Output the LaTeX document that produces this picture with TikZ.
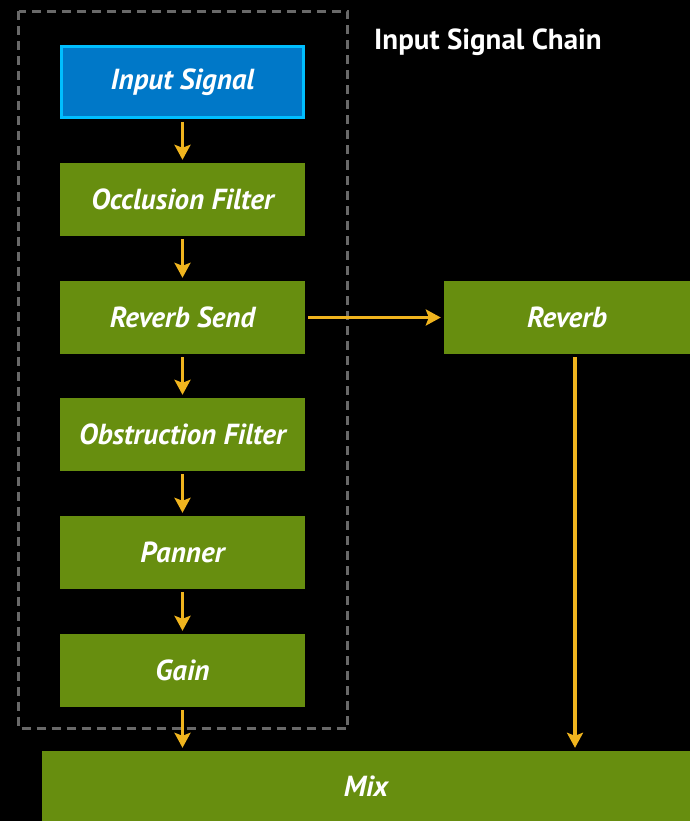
\documentclass[tikz,border=0pt]{standalone}
\usepackage{fontspec}
\setmainfont{PT Sans}
\usetikzlibrary{arrows.meta,calc}
\definecolor{bgc}{RGB}{0,0,0}
\definecolor{boxgreen}{RGB}{103,142,15}
\definecolor{boxblue}{RGB}{0,120,200}
\definecolor{boxcyan}{RGB}{0,190,255}
\definecolor{arrc}{RGB}{240,180,30}
\definecolor{dashc}{RGB}{105,105,105}
\tikzset{
  stage/.style={fill=boxgreen, minimum width=245pt, minimum height=73pt, inner sep=0pt,
    text=white, font=\fontsize{29}{34}\selectfont\bfseries\itshape},
  inputbox/.style={stage, fill=boxblue, draw=boxcyan, line width=3pt, minimum width=242pt, minimum height=71pt},
  flow/.style={draw=arrc, line width=3.5pt, -{Stealth[length=15pt,width=16pt,inset=3pt]}, shorten <=3pt, shorten >=3pt},
  chainbox/.style={draw=dashc, line width=3.5pt, dash pattern=on 9pt off 6pt},
  titletext/.style={text=white, font=\fontsize{29}{34}\selectfont\bfseries}
}
\begin{document}
\begin{tikzpicture}[x=1pt,y=-1pt]
\fill[bgc] (0,0) rectangle (690,821);
\useasboundingbox (0,0) rectangle (690,821);
\draw[chainbox] (18.5,11.5) rectangle (347.5,728.5);
\node[titletext] (title) at (488,42) {Input Signal Chain};
\node[inputbox] (in) at (182.5,82) {Input Signal};
\node[stage] (occ) at (182.5,199.5) {Occlusion Filter};
\node[stage] (rs) at (182.5,317.5) {Reverb Send};
\node[stage] (obs) at (182.5,434.5) {Obstruction Filter};
\node[stage] (pan) at (182.5,552.5) {Panner};
\node[stage] (gain) at (182.5,670.5) {Gain};
\node[stage, minimum width=246pt] (rev) at (567,317.5) {Reverb};
\node[stage, minimum width=648pt, minimum height=70pt] (mix) at (366,786) {Mix};
\draw[flow] (in) -- (occ);
\draw[flow] (occ) -- (rs);
\draw[flow] (rs) -- (obs);
\draw[flow] (obs) -- (pan);
\draw[flow] (pan) -- (gain);
\draw[flow] (gain) -- (gain.south |- mix.north);
\draw[flow] (rs) -- (rev);
\coordinate (rdrop) at ($(rev.south)+(8,0)$);
\draw[flow] (rdrop) -- (rdrop |- mix.north);
\end{tikzpicture}
\end{document}
